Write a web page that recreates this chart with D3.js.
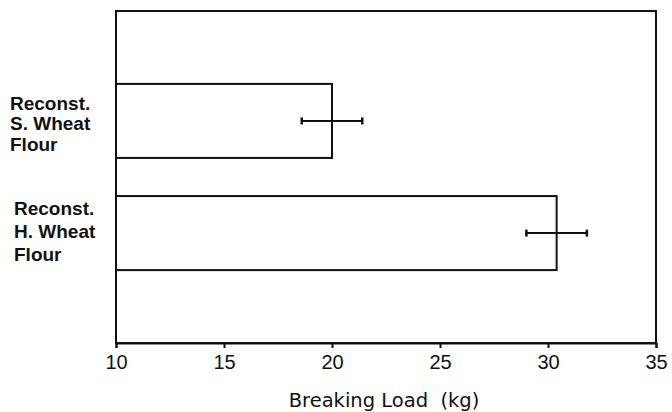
<!DOCTYPE html>
<html><head><meta charset="utf-8">
<script src="https://cdn.jsdelivr.net/npm/d3@7"></script>
<style>body{margin:0;background:#fff}svg{display:block}text{font-family:"Liberation Sans",Arial,sans-serif;fill:#111}</style>
</head><body>
<svg id="c" width="672" height="412"></svg>
<script>
const categories = [["Reconst.","S. Wheat","Flour"],["Reconst.","H. Wheat","Flour"]];
const values = [20.0, 30.4];
const errors = [1.4, 1.4];
const xTicks = [10,15,20,25,30,35];
const xTitle = "Breaking Load  (kg)";

const svg = d3.select("#c");
const m = {l:116, r:656, t:11, b:343};
const x = d3.scaleLinear().domain([10,35]).range([m.l,m.r]);
const y = d3.scaleBand().domain(d3.range(categories.length)).range([m.t,m.b]).paddingInner(0.34).paddingOuter(0.65);
const ink = "#111";

// frame
svg.append("rect").attr("x",m.l).attr("y",m.t).attr("width",m.r-m.l).attr("height",m.b-m.t)
  .attr("fill","none").attr("stroke",ink).attr("stroke-width",2);

// axis
const ax = svg.append("g").attr("transform",`translate(0,${m.b})`)
  .call(d3.axisBottom(x).tickValues(xTicks).tickSize(5).tickPadding(7).tickFormat(d3.format("d")));
ax.select(".domain").attr("stroke",ink).attr("stroke-width",2);
ax.selectAll(".tick line").attr("stroke",ink).attr("stroke-width",2);
ax.selectAll(".tick text").attr("font-size",20).style("font-family","Liberation Sans").attr("fill",ink);

svg.append("text").attr("x",384).attr("y",407).attr("text-anchor","middle")
  .style("font-family","DejaVu Sans").attr("font-size",19.5).style("white-space","pre").text(xTitle);

// bars
svg.selectAll("rect.bar").data(values).join("rect").attr("class","bar")
  .attr("x",x(10)).attr("y",(d,i)=>y(i)).attr("width",d=>x(d)-x(10)).attr("height",y.bandwidth())
  .attr("fill","none").attr("stroke",ink).attr("stroke-width",2);

// error bars
const eb = svg.selectAll("g.eb").data(values).join("g").attr("class","eb");
eb.append("line").attr("x1",(d,i)=>x(d-errors[i])).attr("x2",(d,i)=>x(d+errors[i]))
  .attr("y1",(d,i)=>y(i)+y.bandwidth()/2).attr("y2",(d,i)=>y(i)+y.bandwidth()/2).attr("stroke",ink).attr("stroke-width",2);
[-1,1].forEach(s=>{
  eb.append("line").attr("x1",(d,i)=>x(d+s*errors[i])).attr("x2",(d,i)=>x(d+s*errors[i]))
    .attr("y1",(d,i)=>y(i)+y.bandwidth()/2-3.5).attr("y2",(d,i)=>y(i)+y.bandwidth()/2+3.5).attr("stroke",ink).attr("stroke-width",2.5);
});

// category labels
const lx = [10,14];
const lineGap = [20.5, 23];
const firstOff = [-11, -18];
categories.forEach((lines,i)=>{
  const cy = y(i)+y.bandwidth()/2;
  const t = svg.append("text").attr("font-size",19).attr("font-weight","bold");
  lines.forEach((ln,j)=>{
    t.append("tspan").attr("x",lx[i]).attr("y",cy+firstOff[i]+j*lineGap[i]).text(ln);
  });
});
</script>
</body></html>
